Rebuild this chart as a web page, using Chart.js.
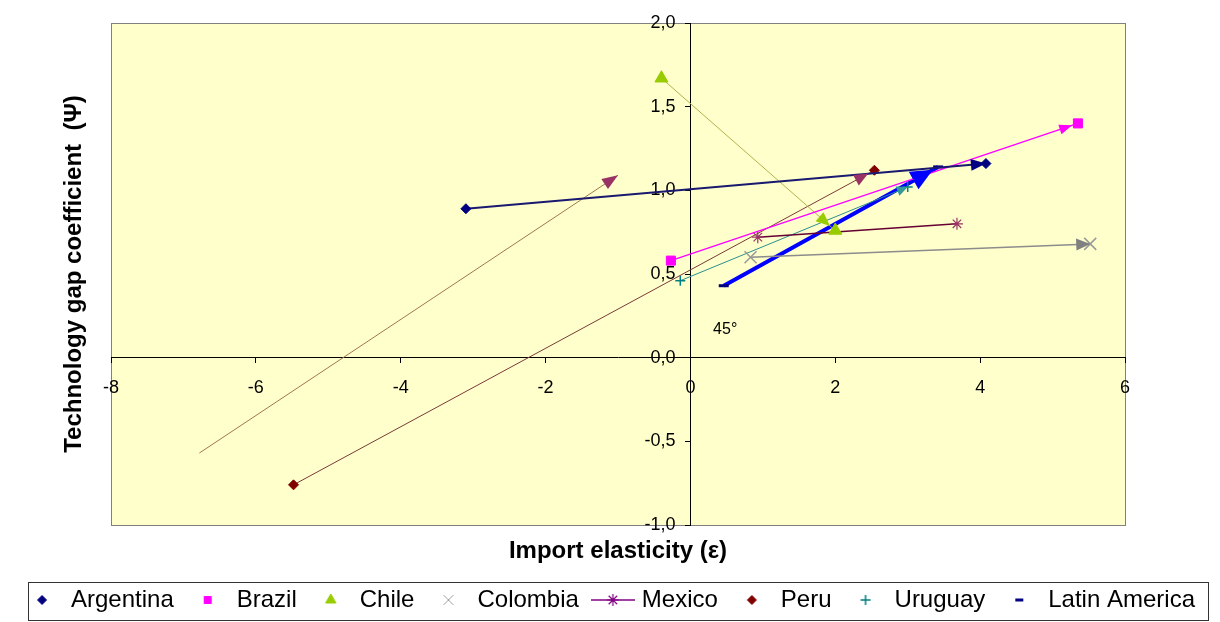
<!DOCTYPE html>
<html>
<head>
<meta charset="utf-8">
<title>Technology gap vs import elasticity</title>
<script src="https://cdn.jsdelivr.net/npm/chart.js"></script>
<style>
  html, body { margin: 0; padding: 0; background: #fff; }
  #wrap { width: 1220px; height: 622px; }
</style>
</head>
<body>
<div id="wrap"><canvas id="gapChart" width="1220" height="622"></canvas></div>
<script>
// values: each country moves from a "from" point to a "to" point
const countries      = ['Argentina', 'Brazil', 'Chile', 'Colombia', 'Mexico', 'Peru', 'Uruguay', 'Latin America'];
const elasticityFrom = [-3.10, -0.27, -0.40, 0.83, 0.93, -5.48, -0.14, 0.46];
const gapFrom        = [ 0.89,  0.58,  1.67, 0.60, 0.72, -0.76,  0.46, 0.43];
const elasticityTo   = [ 4.08,  5.35,  2.00, 5.52, 3.68,  2.54,  3.00, 3.42];
const gapTo          = [ 1.16,  1.40,  0.76, 0.68, 0.80,  1.12,  1.02, 1.14];

// unlabelled line on the left of the plot
const guideX = [-6.78, -1.00];
const guideY = [-0.57,  1.09];

const xTicks = [-8, -6, -4, -2, 0, 2, 4, 6];
const yTicks = [-1, -0.5, 0, 0.5, 1, 1.5, 2];

const angleNote = { text: '45°', x: 0.48, y: 0.17 };

// look of each series (same order as countries)
const styles = [
  { marker: '#000080', line: '#191970', width: 2,   point: 'rectRot',  r: 5,   pw: 1, arrow: { color: '#000080', len: 15, half: 6,  back: 0 } },
  { marker: '#FF00FF', line: '#FF00FF', width: 1.5, point: 'rect',     r: 6.4, pw: 1, arrow: { color: '#FF00FF', len: 13, half: 5,  back: 6 } },
  { marker: '#99CC00', line: '#B2B24C', width: 1,   point: 'triangle', r: 7.5, pw: 1, arrow: { color: '#99CC00', len: 14, half: 6,  back: 7 } },
  { marker: '#999999', line: '#8C8C8C', width: 1.5, point: 'crossRot', r: 8.5, pw: 1.5, arrow: { color: '#808080', len: 14, half: 6, back: 0 } },
  { marker: '#993366', line: '#660033', width: 1.5, point: 'star',     r: 6,   pw: 1.2, arrow: null },
  { marker: '#800000', line: '#7A3A3A', width: 1,   point: 'rectRot',  r: 5,   pw: 1, arrow: { color: '#993366', len: 14, half: 6,  back: 7 } },
  { marker: '#008080', line: '#2A8F8F', width: 1,   point: 'cross',    r: 5,   pw: 1.5, arrow: { color: '#339999', len: 11, half: 5, back: 0 } },
  { marker: '#000080', line: '#0000FF', width: 4,   point: 'line',     r: 5,   pw: 3, arrow: { color: '#0000FF', len: 22, half: 10, back: 6 } }
];

// legend icons are smaller than the plot markers; Mexico shows its line too
const legendMarks = [
  { r: 4.5 }, { r: 5 }, { r: 6 }, { r: 7, color: '#A0A0A0', pw: 1 },
  { r: 6, color: '#800080', line: '#800080' }, { r: 4.5 }, { r: 5 }, { r: 4, pw: 3 }
];

Chart.defaults.font.family = '"Liberation Sans", Arial, sans-serif';
Chart.defaults.color = '#000';

function legendIcon(i) {
  const st = styles[i], lm = legendMarks[i];
  const c = document.createElement('canvas');
  c.width = lm.line ? 44 : 20;
  c.height = 20;
  const g = c.getContext('2d');
  if (lm.line) {
    g.strokeStyle = lm.line;
    g.lineWidth = 1.5;
    g.beginPath();
    g.moveTo(0, 10);
    g.lineTo(44, 10);
    g.stroke();
  }
  const col = lm.color || st.marker;
  g.fillStyle = col;
  g.strokeStyle = col;
  g.lineWidth = lm.pw || st.pw;
  Chart.helpers.drawPoint(g, { pointStyle: st.point, radius: lm.r, rotation: 0, borderWidth: lm.pw || st.pw }, c.width / 2, 10);
  return c;
}

const datasets = countries.map((name, i) => ({
  label: name,
  data: [{ x: elasticityFrom[i], y: gapFrom[i] }, { x: elasticityTo[i], y: gapTo[i] }],
  showLine: true,
  borderColor: styles[i].line,
  borderWidth: styles[i].width,
  pointStyle: styles[i].point,
  pointRadius: styles[i].r,
  pointBackgroundColor: styles[i].marker,
  pointBorderColor: styles[i].marker,
  pointBorderWidth: styles[i].pw,
  arrow: styles[i].arrow
}));

datasets.push({
  label: '',
  data: guideX.map((x, k) => ({ x: x, y: guideY[k] })),
  showLine: true,
  borderColor: '#A07850',
  borderWidth: 1,
  pointRadius: 0,
  arrow: { color: '#993366', len: 16, half: 6, back: 0 }
});

function drawArrow(ctx, from, to, a) {
  const ang = Math.atan2(to.y - from.y, to.x - from.x);
  const cos = Math.cos(ang), sin = Math.sin(ang);
  const tx = to.x - cos * a.back, ty = to.y - sin * a.back;
  const bx = tx - cos * a.len, by = ty - sin * a.len;
  ctx.beginPath();
  ctx.moveTo(tx, ty);
  ctx.lineTo(bx - sin * a.half, by + cos * a.half);
  ctx.lineTo(bx + sin * a.half, by - cos * a.half);
  ctx.closePath();
  ctx.fillStyle = a.color;
  ctx.fill();
}

const chartDecor = {
  id: 'chartDecor',
  beforeDraw(chart) {
    const { ctx, chartArea: a } = chart;
    ctx.save();
    ctx.fillStyle = '#fff';
    ctx.fillRect(0, 0, chart.width, chart.height);
    ctx.fillStyle = '#FFFFCC';
    ctx.fillRect(a.left, a.top, a.right - a.left, a.bottom - a.top);
    ctx.strokeStyle = '#808080';
    ctx.lineWidth = 1;
    ctx.strokeRect(Math.round(a.left) + 0.5, Math.round(a.top) + 0.5, Math.round(a.right - a.left), Math.round(a.bottom - a.top));
    ctx.restore();
  },
  afterDatasetsDraw(chart) {
    const ctx = chart.ctx;
    ctx.save();
    chart.data.datasets.forEach((ds, i) => {
      if (!ds.arrow) return;
      const pts = chart.getDatasetMeta(i).data;
      drawArrow(ctx, pts[pts.length - 2], pts[pts.length - 1], ds.arrow);
    });
    ctx.fillStyle = '#000';
    ctx.font = '16px "Liberation Sans", Arial, sans-serif';
    ctx.textAlign = 'center';
    ctx.textBaseline = 'middle';
    ctx.fillText(angleNote.text, chart.scales.x.getPixelForValue(angleNote.x), chart.scales.y.getPixelForValue(angleNote.y));
    ctx.restore();
  },
  afterDraw(chart) {
    // frame round the legend
    const boxes = chart.legend.legendHitBoxes;
    if (!boxes || !boxes.length) return;
    const first = boxes[0], last = boxes[boxes.length - 1];
    const ctx = chart.ctx;
    ctx.save();
    ctx.strokeStyle = '#333';
    ctx.lineWidth = 1;
    const left = Math.round(first.left + 3) + 0.5;
    const right = Math.round(last.left + last.width + 13) + 0.5;
    const top = Math.round(first.top - 6) + 0.5;
    const bottom = Math.round(first.top + 32) + 0.5;
    ctx.strokeRect(left, top, right - left, bottom - top);
    ctx.restore();
  }
};

const tickFont = { size: 18 };
const titleFont = { size: 24, weight: 'bold' };

new Chart(document.getElementById('gapChart'), {
  type: 'scatter',
  data: { datasets: datasets },
  plugins: [chartDecor],
  options: {
    responsive: false,
    animation: false,
    layout: { padding: { top: 23, left: 0, right: 0, bottom: 0 } },
    plugins: {
      tooltip: { enabled: false },
      legend: {
        position: 'bottom',
        labels: {
          usePointStyle: true,
          pointStyleWidth: 34,
          padding: 17,
          color: '#000',
          font: { size: 24 },
          generateLabels(chart) {
            const items = Chart.defaults.plugins.legend.labels.generateLabels(chart);
            return items
              .filter(it => it.datasetIndex < countries.length)
              .map(it => { it.pointStyle = legendIcon(it.datasetIndex); return it; });
          }
        }
      }
    },
    scales: {
      x: {
        type: 'linear',
        position: { y: 0 },
        min: xTicks[0],
        max: xTicks[xTicks.length - 1],
        afterBuildTicks: s => { s.ticks = xTicks.map(v => ({ value: v })); },
        grid: { drawOnChartArea: false, tickLength: 5, color: '#000' },
        border: { color: '#000', width: 1 },
        ticks: { color: '#000', font: tickFont, padding: 15, autoSkip: false, maxRotation: 0, callback: v => String(v) }
      },
      y: {
        type: 'linear',
        position: { x: 0 },
        min: yTicks[0],
        max: yTicks[yTicks.length - 1],
        afterBuildTicks: s => { s.ticks = yTicks.map(v => ({ value: v })); },
        grid: { drawOnChartArea: false, tickLength: 5, color: '#000' },
        border: { color: '#000', width: 1 },
        // centred axes put labels right against the line, so pad them with spaces
        ticks: { color: '#000', font: tickFont, autoSkip: false, callback: v => v.toFixed(1).replace('.', ',') + '   ' }
      },
      // empty axes that only hold the margins and the axis titles
      yL: {
        type: 'linear', position: 'left', min: 0, max: 1,
        grid: { display: false }, border: { display: false }, ticks: { display: false },
        title: { display: true, text: 'Technology gap coefficient  (Ψ)', color: '#000', font: titleFont, padding: { top: 60, bottom: 0 } },
        afterFit: s => { s.width = 111; }
      },
      yR: {
        type: 'linear', position: 'right', min: 0, max: 1,
        grid: { display: false }, border: { display: false }, ticks: { display: false },
        afterFit: s => { s.width = 95; }
      },
      xB: {
        type: 'linear', position: 'bottom', min: 0, max: 1,
        grid: { display: false }, border: { display: false }, ticks: { display: false },
        title: { display: true, text: 'Import elasticity (ε)', color: '#000', font: titleFont, padding: { top: 0, bottom: 5 } },
        afterFit: s => { s.height = 46; }
      }
    }
  }
});
</script>
</body>
</html>
